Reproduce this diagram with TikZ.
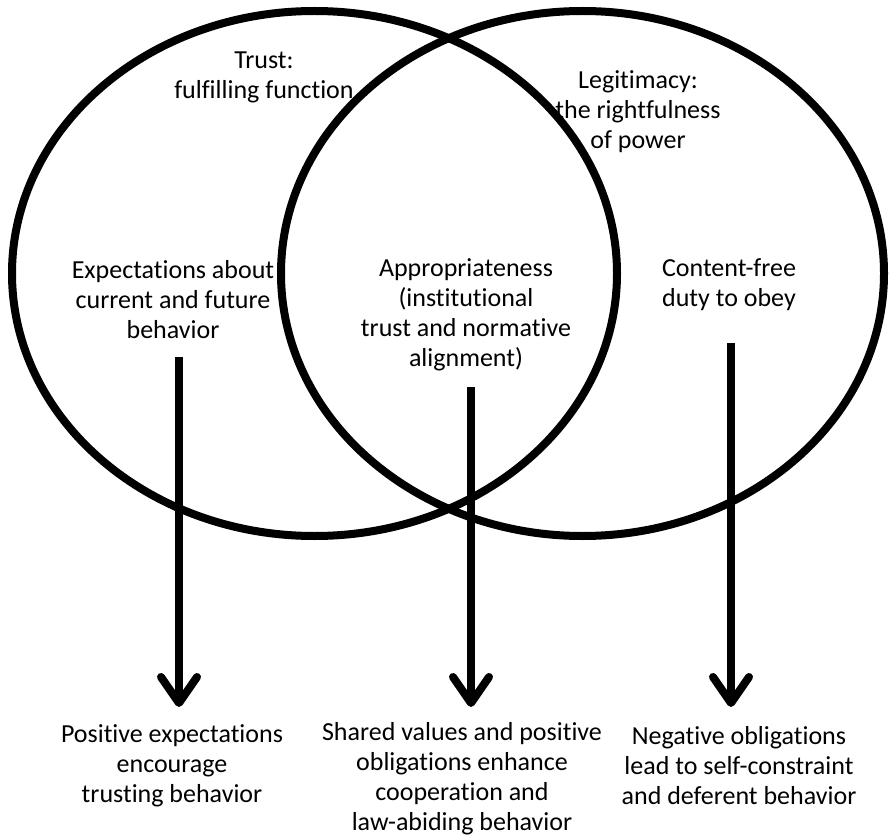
\documentclass[tikz,border=0pt]{standalone}
\usepackage{fontspec}
\setmainfont{Carlito}[Ligatures={NoCommon}]
\usetikzlibrary{arrows.meta}
\begin{document}
\begin{tikzpicture}[x=1pt,y=-1pt,
  ring/.style={draw=black,line width=8pt},
  lbl/.style={align=center,font=\fontsize{26}{30}\selectfont,inner sep=0pt},
  arr/.style={line width=8pt,-{Straight Barb[length=26pt,width=36pt,round]}}]
\useasboundingbox (0,0) rectangle (889,837);
\draw[ring] (314.5,273.5) ellipse [x radius=302.5, y radius=262.5];
\draw[ring] (582.5,273.5) ellipse [x radius=301.5, y radius=262.5];
\node[lbl] (trust) at (264,77) {Trust:\\fulfilling function};
\node[lbl] (legit) at (638,112) {Legitimacy:\\the rightfulness\\of power};
\node[lbl] (expect) at (173,300) {Expectations about\\current and future\\behavior};
\node[lbl] (approp) at (466,315) {Appropriateness\\(institutional\\trust and normative\\alignment)};
\node[lbl] (content) at (729,285) {Content-free\\duty to obey};
\node[lbl] (pos) at (172,766) {Positive expectations\\encourage\\trusting behavior};
\node[lbl] (shared) at (462,779) {Shared values and positive\\obligations enhance\\cooperation and\\law-abiding behavior};
\node[lbl] (neg) at (739,766) {Negative obligations\\lead to self-constraint\\and deferent behavior};
\coordinate (s1) at (179,357); \coordinate (e1) at (179,707);
\coordinate (s2) at (471,387); \coordinate (e2) at (471,707);
\coordinate (s3) at (731,343); \coordinate (e3) at (731,707);
\draw[arr] (s1) -- (e1);
\draw[arr] (s2) -- (e2);
\draw[arr] (s3) -- (e3);
\end{tikzpicture}
\end{document}
